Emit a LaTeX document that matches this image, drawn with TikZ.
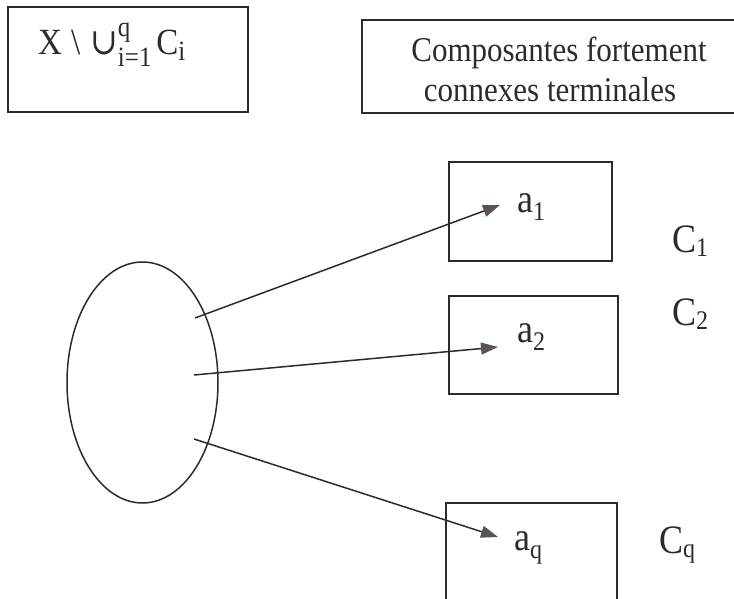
\documentclass[tikz,border=0pt]{standalone}
\usepackage{fontspec}
\setmainfont{Liberation Serif}
\newfontfamily\djv{DejaVu Serif}
\usetikzlibrary{arrows.meta,shapes.geometric}
\definecolor{ink}{HTML}{2E2A2C}
\definecolor{headc}{HTML}{5A5258}
\newcommand\myscr{\fontsize{25}{25}\selectfont}
\newcommand\myscrb{\fontsize{24}{24}\selectfont}
\newcommand\tall[1]{\scalebox{1}[1.12]{#1}}
\begin{document}
\begin{tikzpicture}[x=1pt,y=-1pt,
  frame/.style={draw=ink, line width=1.8pt, inner sep=0pt, outer sep=0pt, anchor=north west},
  lbl/.style={inner sep=0pt, anchor=base west, font=\fontsize{36}{40}\selectfont, text=ink},
  setl/.style={inner sep=0pt, anchor=base west, font=\fontsize{33}{36}\selectfont, text=ink},
  title/.style={inner sep=0pt, anchor=base, font=\fontsize{31}{36}\selectfont, text=ink},
  conn/.style={draw=ink, line width=1.5pt, -{Triangle[length=17pt,width=12pt,color=headc]}},
]
\useasboundingbox (0,0) rectangle (734,599);

% top boxes
\node[frame, minimum width=240pt, minimum height=105pt] (setbox) at (8,7) {};
\node[setl] (setlbl) at (38,55) {\tall{X\hspace{0.28em}\textbackslash\hspace{0.3em}{\djv ∪}\makebox[0pt][l]{\raisebox{0.5em}{\myscr q}}\raisebox{-0.3em}{\myscr i=1}\hspace{0.15em}C\raisebox{-0.15em}{\myscr i}}};

\node[frame, minimum width=374pt, minimum height=93pt] (titlebox) at (362,20) {};
\node[title] (title1) at (559,62) {\tall{Composantes fortement}};
\node[title] (title2) at (550,102) {\tall{connexes terminales}};

% ellipse
\node[draw=ink, line width=1.5pt, ellipse, minimum width=151pt, minimum height=241pt, inner sep=0pt] (E) at (142.5,382.5) {};

% component boxes
\node[frame, minimum width=163pt, minimum height=99pt] (box1) at (449,162) {};
\node[frame, minimum width=169pt, minimum height=98pt] (box2) at (449,296) {};
\node[frame, minimum width=171pt, minimum height=110pt] (boxq) at (446,503) {};

% labels
\node[lbl] (a1) at (517,212) {\tall{a\raisebox{-0.2em}{\myscrb 1}}};
\node[lbl] (a2) at (517,342) {\tall{a\raisebox{-0.2em}{\myscrb 2}}};
\node[lbl] (aq) at (514,550) {\tall{a\raisebox{-0.2em}{\myscrb q}}};
\node[lbl] (C1) at (672,252) {\tall{C\raisebox{-0.12em}{\myscrb 1}}};
\node[lbl] (C2) at (672,325) {\tall{C\raisebox{-0.12em}{\myscrb 2}}};
\node[lbl] (Cq) at (659,553) {\tall{C\raisebox{-0.12em}{\myscrb q}}};

% connectors
\coordinate (s1) at ([shift={(52.5,-64.5)}]E.center);
\coordinate (s2) at ([shift={(51.5,-7.5)}]E.center);
\coordinate (s3) at ([shift={(51.5,56.5)}]E.center);
\coordinate (t1) at ([shift={(-17,-7)}]a1.base west);
\coordinate (t2) at ([shift={(-19,5)}]a2.base west);
\coordinate (tq) at ([shift={(-16,-13)}]aq.base west);
\draw[conn] (s1) -- (t1);
\draw[conn] (s2) -- (t2);
\draw[conn] (s3) -- (tq);
\end{tikzpicture}
\end{document}
